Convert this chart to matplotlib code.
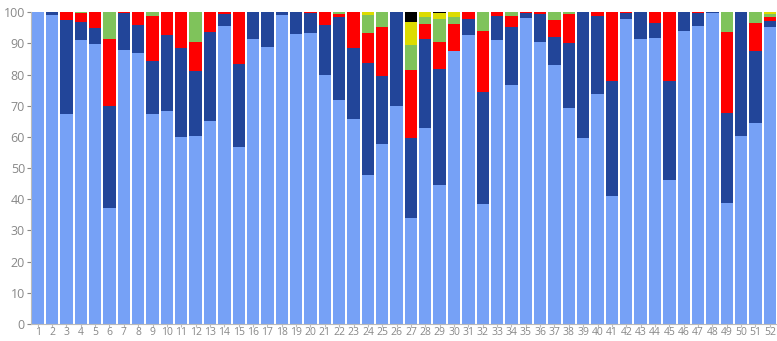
import matplotlib
matplotlib.use('Agg')
import matplotlib.pyplot as plt
import numpy as np

plt.rcParams['font.family'] = ['Open Sans', 'DejaVu Sans']

labels = [str(i) for i in range(1, 53)]

# stacked from the bottom: light blue, dark blue, red, green, yellow, black
light_blue = [100, 99.2, 67.3, 91.0, 89.9, 37.1, 88.0, 87.0, 67.3, 68.4,
              59.9, 60.4, 65.2, 95.5, 56.8, 91.5, 88.8, 99.0, 93.0, 93.2,
              79.8, 71.9, 65.8, 47.9, 57.7, 69.9, 34.1, 63.0, 44.5, 87.5,
              92.8, 38.4, 91.1, 76.6, 98.1, 90.6, 83.2, 69.4, 59.6, 73.8,
              41.1, 97.8, 91.5, 91.7, 46.1, 94.1, 95.6, 99.8, 38.7, 60.2,
              64.4, 95.2]
top_darkblue = [100, 100, 97.4, 96.9, 95.1, 69.8, 99.7, 95.9, 84.3, 92.7,
                88.5, 81.3, 93.7, 99.6, 83.3, 100, 100, 100, 100, 99.8,
                95.8, 98.4, 88.4, 83.6, 79.5, 100, 59.7, 91.4, 81.7, 87.5,
                97.7, 74.5, 98.9, 95.4, 99.7, 99.6, 92.0, 90.2, 100, 98.9,
                78.0, 99.8, 100, 96.7, 77.9, 100, 99.8, 100, 67.8, 100,
                87.5, 97.2]
top_red = [100, 100, 100, 99.7, 100, 91.3, 100, 100, 98.9, 100,
           100, 90.6, 100, 100, 100, 100, 100, 100, 100, 100,
           100, 99.5, 100, 93.2, 95.3, 100, 81.5, 96.3, 90.5, 96.3,
           100, 94.0, 100, 98.9, 100, 100, 97.6, 99.4, 100, 100,
           100, 100, 100, 100, 100, 100, 100, 100, 93.8, 100,
           96.6, 98.4]
top_green = [100, 100, 100, 100, 100, 100, 100, 100, 100, 100,
             100, 100, 100, 100, 100, 100, 100, 100, 100, 100,
             100, 100, 100, 99.0, 100, 100, 89.4, 98.4, 97.9, 98.6,
             100, 100, 100, 100, 100, 100, 100, 100, 100, 100,
             100, 100, 100, 100, 100, 100, 100, 100, 100, 100,
             100, 99.5]
top_yellow = [100] * 26 + [96.9, 100, 99.7] + [100] * 23

tops = [light_blue, top_darkblue, top_red, top_green, top_yellow, [100] * 52]
colors = ['#76a1f6', '#224599', '#fe0000', '#7fc35b', '#dcdc00', '#000000']

fig = plt.figure(figsize=(7.77, 3.41), dpi=100)
ax = fig.add_axes([0.0393, 0.05, 0.9607, 0.914])

x = np.arange(1, 53)
prev = np.zeros(52)
for top, c in zip(tops, colors):
    top = np.array(top, dtype=float)
    ax.bar(x, top - prev, bottom=prev, width=0.86, color=c,
           edgecolor='none', linewidth=0)
    prev = top

ax.set_xlim(0.5, 52.5)
ax.set_ylim(0, 100)
ax.set_yticks(range(0, 101, 10))
ax.set_xticks(x)
ax.set_xticklabels(labels)
for s in ['top', 'right']:
    ax.spines[s].set_visible(False)
ax.spines['left'].set_color('#bbbbbb')
ax.spines['bottom'].set_color('#bbbbbb')
ax.tick_params(axis='y', colors='#888888', labelsize=9, length=3, pad=1,
               labelcolor='#888888')
ax.tick_params(axis='x', colors='#bbbbbb', labelsize=7.5, length=2, pad=0.5,
               labelcolor='#888888')

fig.savefig('out.png', dpi=100)
